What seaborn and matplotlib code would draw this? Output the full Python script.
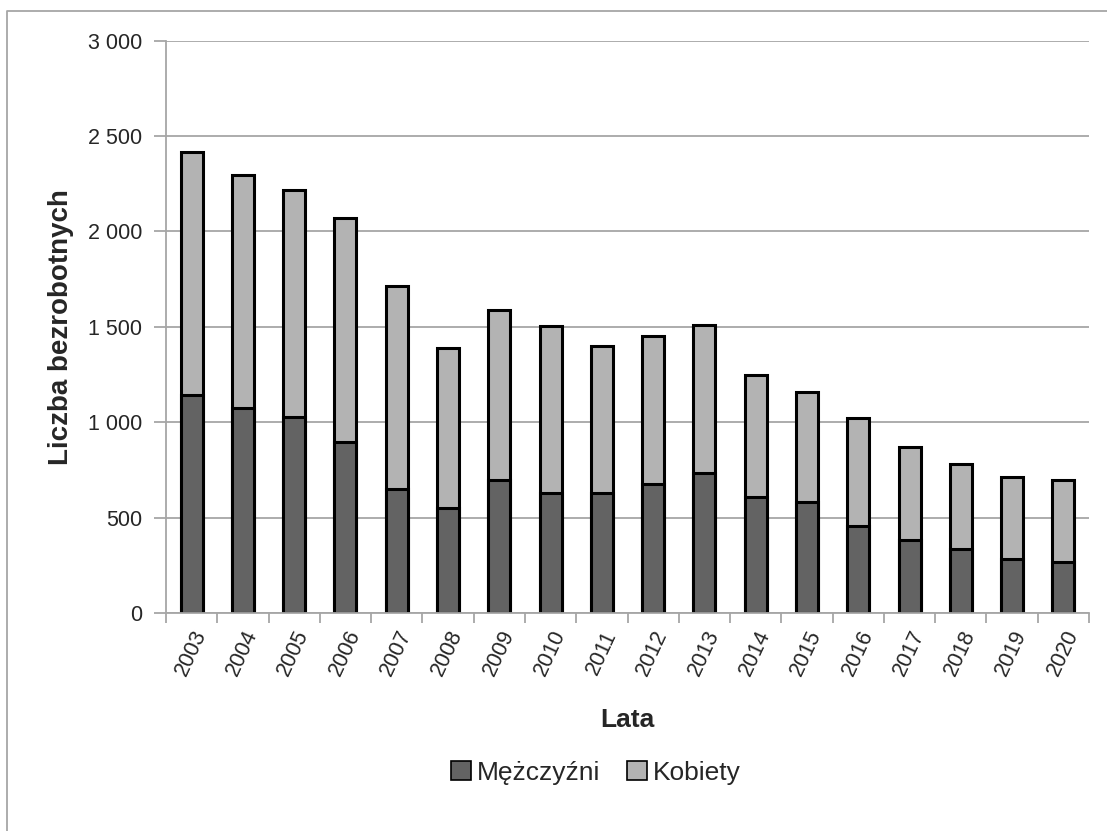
import numpy as np
import pandas as pd
import matplotlib
matplotlib.use('Agg')
import matplotlib.pyplot as plt
from matplotlib.patches import Patch
from matplotlib.ticker import FuncFormatter, FixedLocator
from matplotlib.lines import Line2D
import seaborn as sns

sns.set_theme(style='white')
plt.rcParams['font.family'] = ['Liberation Sans Narrow', 'Liberation Sans', 'DejaVu Sans']

# dane
lata = [str(r) for r in range(2003, 2021)]
razem = [2418, 2296, 2219, 2068, 1713, 1390, 1588, 1507, 1397,
         1453, 1509, 1245, 1157, 1021, 871, 780, 712, 698]
mezczyzni = [1143, 1075, 1028, 899, 650, 552, 699, 628, 628,
             678, 733, 608, 582, 458, 385, 336, 282, 266]
kobiety = [r - m for r, m in zip(razem, mezczyzni)]

df = pd.DataFrame({'Lata': lata, 'Mezczyzni': mezczyzni,
                   'Kobiety': kobiety, 'Razem': razem})

c_m = '#636363'
c_k = '#b3b3b3'

fig = plt.figure(figsize=(11.07, 8.31), dpi=100)
ax = fig.add_axes([166/1107, 1 - 613/831, (1089-166)/1107, (613-40.7)/831])

# najpierw suma (kobiety na wierzchu), potem mężczyźni od zera
sns.barplot(data=df, x='Lata', y='Razem', color=c_k, width=0.43,
            edgecolor='black', linewidth=2.2, saturation=1, ax=ax)
sns.barplot(data=df, x='Lata', y='Mezczyzni', color=c_m, width=0.43,
            edgecolor='black', linewidth=2.2, saturation=1, ax=ax)

ax.set_xlim(-0.5, len(lata) - 0.5)
ax.set_ylim(0, 3000)
ax.set_yticks(np.arange(0, 3001, 500))
ax.yaxis.set_major_formatter(FuncFormatter(lambda v, p: f'{int(v):,}'.replace(',', ' ')))
ax.yaxis.grid(True, color='#a6a6a6', linewidth=1.3)
ax.set_axisbelow(True)

for s in ['top', 'right']:
    ax.spines[s].set_visible(False)
for s in ['left', 'bottom']:
    ax.spines[s].set_color('#a6a6a6')
    ax.spines[s].set_linewidth(1.3)

ax.tick_params(axis='y', which='major', length=9, width=1.3, color='#a6a6a6',
               direction='out', labelsize=15.5, pad=8, left=True)
ax.tick_params(axis='x', which='major', length=0, labelsize=15.5, pad=10)
ax.xaxis.set_minor_locator(FixedLocator(np.arange(-0.5, len(lata), 1)))
ax.tick_params(axis='x', which='minor', length=7, width=1.3, color='#a6a6a6',
               direction='out', bottom=True)
for lab in ax.get_xticklabels():
    lab.set_rotation(65)
    lab.set_ha('right')
    lab.set_rotation_mode('anchor')

ax.set_xlabel('Lata', fontsize=19, fontweight='bold')
ax.set_ylabel('Liczba bezrobotnych', fontsize=20, fontweight='bold')
ax.xaxis.set_label_coords(0.5, -0.166)
ax.yaxis.set_label_coords(-0.10, 0.5)

uchwyty = [Patch(facecolor=c_m, edgecolor='black', linewidth=1.2, label='Mężczyźni'),
           Patch(facecolor=c_k, edgecolor='black', linewidth=1.2, label='Kobiety')]
fig.legend(handles=uchwyty, loc='center', bbox_to_anchor=(596/1107, 1 - 773/831),
           ncol=2, frameon=False, fontsize=19, handlelength=0.75, handleheight=0.75,
           handletextpad=0.25, columnspacing=1.0)

# ramka wykresu (widoczna tylko z góry i z lewej)
fig.add_artist(Line2D([7/1107, 7/1107, 1], [0, 1 - 10.5/831, 1 - 10.5/831],
                      transform=fig.transFigure, color='#a6a6a6', linewidth=1.3))

fig.savefig('out.png', dpi=100)
